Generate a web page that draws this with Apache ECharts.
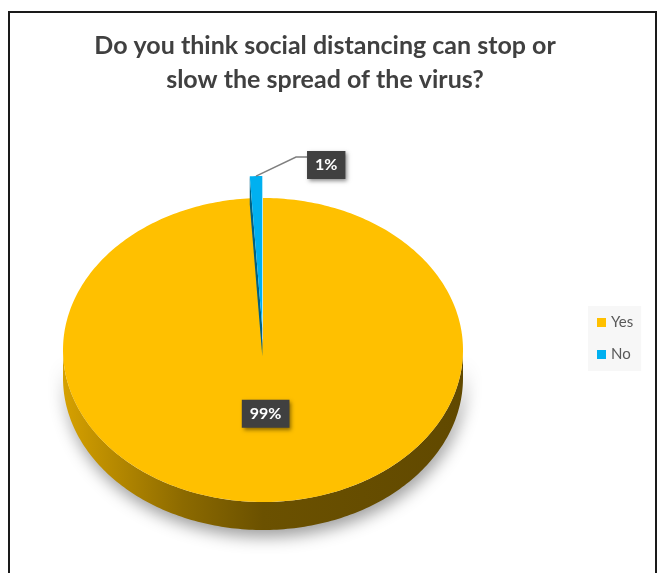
<!DOCTYPE html>
<html><head><meta charset="utf-8">
<script src="https://cdn.jsdelivr.net/npm/echarts@6/dist/echarts.min.js"></script>
<style>html,body{margin:0;padding:0;background:#fff}#c{width:660px;height:573px}</style>
</head><body><div id="c"></div>
<script>
const titleText = 'Do you think social distancing can stop or\nslow the spread of the virus?';
const categories = ['Yes', 'No'];
const values = [99, 1];
const colors = ['#FFC000', '#00B0F0'];

// layout (not data)
const CX = 263, CY = 350, RX = 200, RY = 152, DEPTH = 28;
const EXPLODE = [0, 22];
const FONT = 'Lato, "Open Sans", sans-serif';
const total = values.reduce((a, b) => a + b, 0);

function shade(color, f) {
  const c = echarts.color.parse(color);
  return 'rgb(' + Math.round(c[0] * f) + ',' + Math.round(c[1] * f) + ',' + Math.round(c[2] * f) + ')';
}

function arcPts(cx, cy, a0, a1, dy) {
  const n = Math.max(2, Math.ceil(Math.abs(a1 - a0) / (Math.PI / 180)));
  const pts = [];
  for (let j = 0; j <= n; j++) {
    const a = a0 + (a1 - a0) * j / n;
    pts.push([cx + RX * Math.cos(a), cy + RY * Math.sin(a) + dy]);
  }
  return pts;
}

function render(i) {
  return function (params, api) {
    const v = api.value(0);
    let before = 0;
    for (let k = 0; k < i; k++) before += values[k];
    const s = -Math.PI / 2 + before / total * 2 * Math.PI;
    const e = s + v / total * 2 * Math.PI;
    const mid = (s + e) / 2;
    const cx = CX + EXPLODE[i] * Math.cos(mid);
    const cy = CY + EXPLODE[i] * Math.sin(mid);
    const col = colors[i];
    const children = [];
    // outer side band (front half only)
    for (let k = -1; k <= 1; k++) {
      const lo = Math.max(s, 2 * Math.PI * k), hi = Math.min(e, Math.PI + 2 * Math.PI * k);
      if (hi > lo) {
        const top = arcPts(cx, cy, lo, hi, 0);
        const bot = arcPts(cx, cy, lo, hi, DEPTH).reverse();
        children.push({
          type: 'polygon', shape: { points: top.concat(bot) },
          style: {
            fill: { type: 'linear', x: CX - RX, y: 0, x2: CX + RX, y2: 0, global: true,
              colorStops: [
                { offset: 0, color: shade(col, 0.84) },
                { offset: 0.3, color: shade(col, 0.55) },
                { offset: 0.5, color: shade(col, 0.42) },
                { offset: 1, color: shade(col, 0.38) }
              ] },
            shadowBlur: 16, shadowColor: 'rgba(0,0,0,0.38)', shadowOffsetY: 7, shadowOffsetX: 2
          }
        });
      }
    }
    // radial walls
    [s, e].forEach(function (a) {
      const rim = [cx + RX * Math.cos(a), cy + RY * Math.sin(a)];
      children.push({
        type: 'polygon',
        shape: { points: [[cx, cy], rim, [rim[0], rim[1] + DEPTH], [cx, cy + DEPTH]] },
        style: { fill: shade(col, 0.55) }
      });
    });
    // top face
    children.push({
      type: 'polygon',
      shape: { points: [[cx, cy]].concat(arcPts(cx, cy, s, e, 0)) },
      style: { fill: col }
    });
    // label
    const frac = v / total;
    const txt = Math.round(frac * 100) + '%';
    const boxStyle = {
      text: txt, fill: '#ffffff', fontSize: 16, fontWeight: 'bold', fontFamily: FONT,
      backgroundColor: '#404040', padding: [6, 8],
      shadowBlur: 4, shadowColor: 'rgba(0,0,0,0.45)', shadowOffsetX: 2, shadowOffsetY: 2
    };
    if (frac >= 0.05) {
      children.push({
        type: 'text',
        x: cx + RX * 0.42 * Math.cos(mid), y: cy + RY * 0.42 * Math.sin(mid),
        style: Object.assign({ align: 'center', verticalAlign: 'middle' }, boxStyle)
      });
    } else {
      const p0 = [cx + RX * Math.cos(mid), cy + RY * Math.sin(mid)];
      const p1 = [p0[0] + 40, p0[1] - 19];
      const p2 = [p1[0] + 11, p1[1]];
      children.push({
        type: 'polyline', shape: { points: [p0, p1, p2] },
        style: { stroke: '#7f7f7f', lineWidth: 1.5, fill: null }
      });
      children.push({
        type: 'text', x: p2[0], y: p2[1] - 6,
        style: Object.assign({ align: 'left', verticalAlign: 'top' }, boxStyle)
      });
    }
    return { type: 'group', children: children };
  };
}

const chart = echarts.init(document.getElementById('c'), null, { renderer: 'canvas' });
chart.setOption({
  animation: false,
  backgroundColor: '#ffffff',
  color: colors,
  title: {
    text: titleText, left: 325, top: 29, padding: 0,
    textAlign: 'center',
    textStyle: { fontFamily: FONT, fontSize: 25, fontWeight: 'bold', color: '#404040', lineHeight: 34, align: 'center' }
  },
  legend: {
    data: categories, orient: 'vertical', left: 588, top: 306,
    icon: 'rect', itemWidth: 9, itemHeight: 9, itemGap: 17,
    backgroundColor: '#f7f7f7', padding: [9, 8, 9, 9],
    textStyle: { fontFamily: FONT, fontSize: 15, color: '#595959' }
  },
  graphic: [{
    type: 'rect', z: -10, silent: true,
    shape: { x: 9, y: 12, width: 647, height: 600 },
    style: { fill: null, stroke: '#1a1a1a', lineWidth: 2 }
  }],
  series: categories.map(function (name, i) {
    return {
      type: 'custom', name: name, coordinateSystem: 'none', z: 2 + i,
      renderItem: render(i), data: [[values[i]]]
    };
  })
});
</script></body></html>
